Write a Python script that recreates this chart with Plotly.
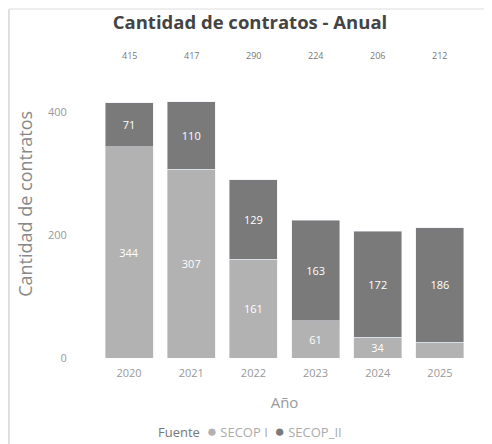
import plotly.graph_objects as go

years = ["2020", "2021", "2022", "2023", "2024", "2025"]
secop_i = [344, 307, 161, 61, 34, 26]
secop_ii = [71, 110, 129, 163, 172, 186]
totals = [415, 417, 290, 224, 206, 212]
series_names = ["SECOP I", "SECOP_II"]

c1 = "#b2b2b2"
c2 = "#7a7a7a"
font = "Open Sans"

fig = go.Figure()
fig.add_trace(go.Bar(
    x=years, y=secop_i, name=series_names[0], marker_color=c1, showlegend=False,
    text=[str(v) if v >= 30 else "" for v in secop_i], textposition="inside",
    insidetextanchor="middle", textangle=0,
    textfont=dict(color="white", size=11, family=font),
))
fig.add_trace(go.Bar(
    x=years, y=secop_ii, name=series_names[1], marker_color=c2, showlegend=False,
    text=[str(v) for v in secop_ii], textposition="inside",
    insidetextanchor="middle", textangle=0,
    textfont=dict(color="white", size=11, family=font),
))

for i, t in enumerate(totals):
    fig.add_annotation(x=i, y=1.183, xref="x", yref="paper", text=str(t),
                       showarrow=False, font=dict(size=9, color="#777", family=font))

# y axis title as rotated text
fig.add_annotation(x=-0.196, y=0.586, xref="paper", yref="paper",
                   text="Cantidad de contratos", textangle=-90, showarrow=False,
                   xanchor="center", yanchor="middle",
                   font=dict(size=18, color="#888", family=font))

# legend drawn as text with coloured dots
legend_text = ("<span style='color:#777'>Fuente</span>  "
               f"<span style='color:{c1};font-size:17px'>●</span> {series_names[0]}  "
               f"<span style='color:{c2};font-size:17px'>●</span> {series_names[1]}")
fig.add_annotation(x=0.408, y=-0.274, xref="paper", yref="paper", text=legend_text,
                   showarrow=False, xanchor="center", yanchor="middle",
                   font=dict(size=13, color="#aaa", family=font))

fig.update_layout(
    width=484, height=436,
    margin=dict(l=90, r=21, t=87, b=86),
    barmode="stack", bargap=0.23,
    showlegend=False,
    plot_bgcolor="white", paper_bgcolor="white",
    font=dict(family=font, color="#888"),
    title=dict(text="<b>Cantidad de contratos - Anual</b>", x=0.5, xanchor="center",
               y=0.966, yanchor="middle", font=dict(size=18.5, color="#444", family=font)),
    xaxis=dict(type="category", categoryorder="array", categoryarray=years,
               range=[-0.5, len(years) - 0.5], automargin=False,
               title=dict(text="Año", font=dict(size=15, color="#999"), standoff=18),
               tickfont=dict(size=11, color="#999"), showgrid=False, showline=False,
               ticks="outside", ticklen=5, tickcolor="rgba(0,0,0,0)"),
    yaxis=dict(range=[0, 428], tickvals=[0, 200, 400], tickfont=dict(size=11, color="#999"),
               ticks="outside", ticklen=28, tickcolor="rgba(0,0,0,0)", automargin=False,
               showgrid=False, zeroline=False),
    shapes=[
        dict(type="line", xref="paper", yref="paper", x0=-0.239, x1=-0.239, y0=-0.33, y1=1.327,
             line=dict(color="#ddd", width=2)),
        dict(type="line", xref="paper", yref="paper", x0=-0.239, x1=1.06, y0=1.327, y1=1.327,
             line=dict(color="#eee", width=2)),
    ],
)

fig.write_html("out.html")
